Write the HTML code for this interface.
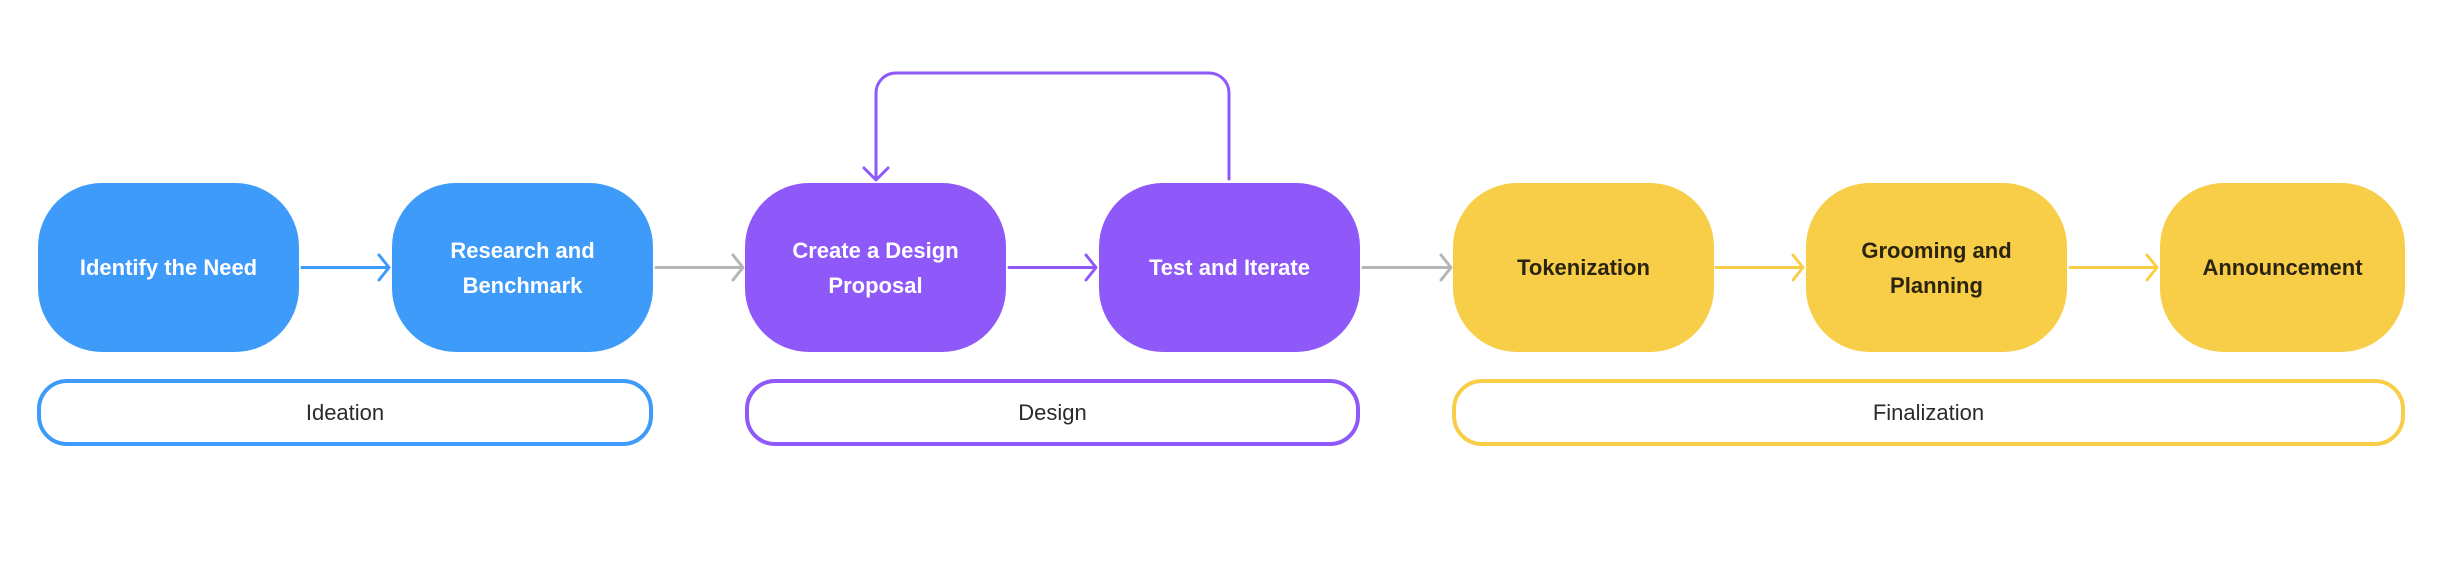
<!DOCTYPE html>
<html><head><meta charset="utf-8"><style>
html,body{margin:0;padding:0;background:#fff}
body{width:2446px;height:564px;position:relative;overflow:hidden;font-family:"Liberation Sans",sans-serif}
.n{position:absolute;top:183px;height:169px;width:261px;border-radius:64px;display:flex;align-items:center;justify-content:center;text-align:center;font-weight:bold;font-size:22px;line-height:35px;color:#fff}
.b{background:#3E9BFA}.p{background:#8F58F9}.y{background:#F8CD48;color:#2a2410}
.ph{position:absolute;top:379px;height:59px;border:4px solid;border-radius:30px;display:flex;align-items:center;justify-content:center;font-size:22px;color:#2a2a2a;background:#fff}
svg{position:absolute;left:0;top:0}
</style></head><body>
<svg width="2446" height="564" fill="none" stroke-width="3" stroke-linecap="round" stroke-linejoin="round">
<g stroke="#3E9BFA"><path d="M302 267.5H388M379 255l10 12.5-10 12.5"/></g>
<g stroke="#B5B5B5"><path d="M656 267.5H742M733 255l10 12.5-10 12.5"/><path d="M1363 267.5H1450M1441 255l10 12.5-10 12.5"/></g>
<g stroke="#8F58F9"><path d="M1009 267.5H1095M1086 255l10 12.5-10 12.5"/>
<path d="M1229 179V93a20 20 0 0 0-20-20H896a20 20 0 0 0-20 20V178M864 168l12 12 12-12"/></g>
<g stroke="#F8CD48"><path d="M1716 267.5H1802M1793 255l10 12.5-10 12.5"/><path d="M2070 267.5H2156M2147 255l10 12.5-10 12.5"/></g>
</svg>
<div class="n b" style="left:38px">Identify the Need</div>
<div class="n b" style="left:392px">Research and<br>Benchmark</div>
<div class="n p" style="left:745px">Create a Design<br>Proposal</div>
<div class="n p" style="left:1099px">Test and Iterate</div>
<div class="n y" style="left:1453px">Tokenization</div>
<div class="n y" style="left:1806px">Grooming and<br>Planning</div>
<div class="n y" style="left:2160px;width:245px">Announcement</div>
<div class="ph" style="left:37px;width:608px;border-color:#3E9BFA">Ideation</div>
<div class="ph" style="left:745px;width:607px;border-color:#8F58F9">Design</div>
<div class="ph" style="left:1452px;width:945px;border-color:#F8CD48">Finalization</div>
</body></html>
